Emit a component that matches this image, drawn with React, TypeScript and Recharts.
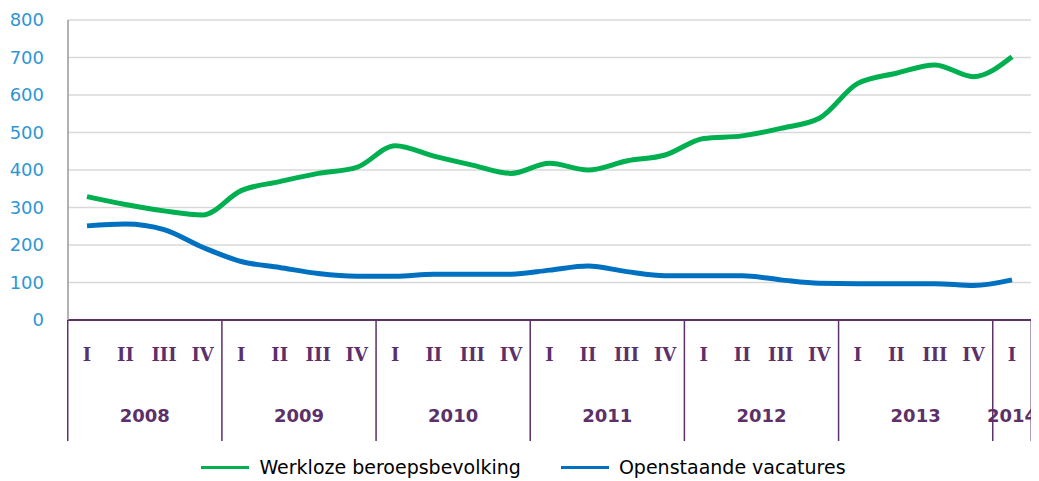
import { LineChart, Line, XAxis, YAxis, CartesianGrid, Legend } from "recharts";

const quarters = [
  "I", "II", "III", "IV",
  "I", "II", "III", "IV",
  "I", "II", "III", "IV",
  "I", "II", "III", "IV",
  "I", "II", "III", "IV",
  "I", "II", "III", "IV",
  "I",
];
const years = [
  "2008", "2008", "2008", "2008",
  "2009", "2009", "2009", "2009",
  "2010", "2010", "2010", "2010",
  "2011", "2011", "2011", "2011",
  "2012", "2012", "2012", "2012",
  "2013", "2013", "2013", "2013",
  "2014",
];
const werkloze = [
  329, 308, 291, 280,
  345, 369, 391, 407,
  465, 437, 413, 391,
  418, 400, 424, 440,
  484, 491, 511, 538,
  631, 658, 680, 649,
  702,
];
const vacatures = [
  251, 256, 241, 194,
  156, 140, 124, 117,
  117, 122, 122, 122,
  133, 144, 129, 118,
  118, 118, 107, 98,
  97, 97, 97, 92,
  107,
];
const yTicks = [0, 100, 200, 300, 400, 500, 600, 700, 800];

const data = quarters.map((q, i) => ({
  key: `${years[i]}-${q}`,
  quarter: q,
  year: years[i],
  werkloze: werkloze[i],
  vacatures: vacatures[i],
}));

const CHART_W = 1031;
const CHART_H = 473;
const Y_W = 60;
const M_RIGHT = 8;
const PAD = 19;
const PLOT_W = CHART_W - Y_W - M_RIGHT;
const STEP = (PLOT_W - 2 * PAD) / (data.length - 1);
const PURPLE = "#5c3068";
const GREEN = "#00b050";
const BLUE = "#0070c0";

function QuarterTick(props: any) {
  const { x, y, payload } = props;
  const i = payload.index;
  const d = data[i];
  const isFirst = i === 0 || data[i - 1].year !== d.year;
  const isLast = i === data.length - 1;
  const n = data.filter((e) => e.year === d.year).length;
  return (
    <g>
      <text
        x={x}
        y={y + 34}
        textAnchor="middle"
        dominantBaseline="central"
        fill={PURPLE}
        fontFamily="DejaVu Serif"
        fontWeight="bold"
        fontSize={18}
      >
        {d.quarter}
      </text>
      {isFirst && (
        <>
          <line x1={x - STEP / 2} y1={y} x2={x - STEP / 2} y2={y + 121} stroke={PURPLE} strokeWidth={1.5} />
          <text
            x={x + ((n - 1) * STEP) / 2}
            y={y + 95}
            textAnchor="middle"
            dominantBaseline="central"
            fill={PURPLE}
            fontFamily="DejaVu Sans"
            fontWeight="bold"
            fontSize={18}
          >
            {d.year}
          </text>
        </>
      )}
      {isLast && <line x1={x + STEP / 2} y1={y} x2={x + STEP / 2} y2={y + 121} stroke={PURPLE} strokeWidth={1.5} />}
    </g>
  );
}

function LegendContent() {
  const items = [
    { label: "Werkloze beroepsbevolking", color: GREEN },
    { label: "Openstaande vacatures", color: BLUE },
  ];
  return (
    <div style={{ display: "flex", justifyContent: "center", fontFamily: "DejaVu Sans", fontSize: 19, color: "#000" }}>
      {items.map((it) => (
        <div key={it.label} style={{ display: "flex", alignItems: "center", margin: "0 20px" }}>
          <span style={{ display: "inline-block", width: 48, height: 3, background: it.color, marginRight: 10 }} />
          <span>{it.label}</span>
        </div>
      ))}
    </div>
  );
}

export default function App() {
  return (
    <LineChart width={CHART_W} height={CHART_H} data={data} margin={{ top: 12, right: M_RIGHT, left: 0, bottom: 36 }}>
      <CartesianGrid vertical={false} stroke="#d9d9d9" strokeWidth={1.5} />
      <XAxis
        dataKey="key"
        height={125}
        interval={0}
        padding={{ left: PAD, right: PAD }}
        tickLine={false}
        tickSize={0}
        tickMargin={0}
        axisLine={{ stroke: PURPLE, strokeWidth: 2 }}
        tick={<QuarterTick />}
      />
      <YAxis
        width={Y_W}
        domain={[0, 800]}
        ticks={yTicks}
        tickLine={false}
        tickMargin={18}
        axisLine={{ stroke: "#999999", strokeWidth: 1.5 }}
        tick={{ fill: "#2f96d4", fontSize: 18, fontFamily: "DejaVu Sans" }}
      />
      <Legend
        layout="horizontal"
        verticalAlign="middle"
        align="center"
        content={<LegendContent />}
        wrapperStyle={{ top: 448, left: 0, width: CHART_W }}
      />
      <Line
        type="monotone"
        dataKey="werkloze"
        name="Werkloze beroepsbevolking"
        stroke={GREEN}
        strokeWidth={5}
        dot={false}
        isAnimationActive={false}
      />
      <Line
        type="monotone"
        dataKey="vacatures"
        name="Openstaande vacatures"
        stroke={BLUE}
        strokeWidth={5}
        dot={false}
        isAnimationActive={false}
      />
    </LineChart>
  );
}
